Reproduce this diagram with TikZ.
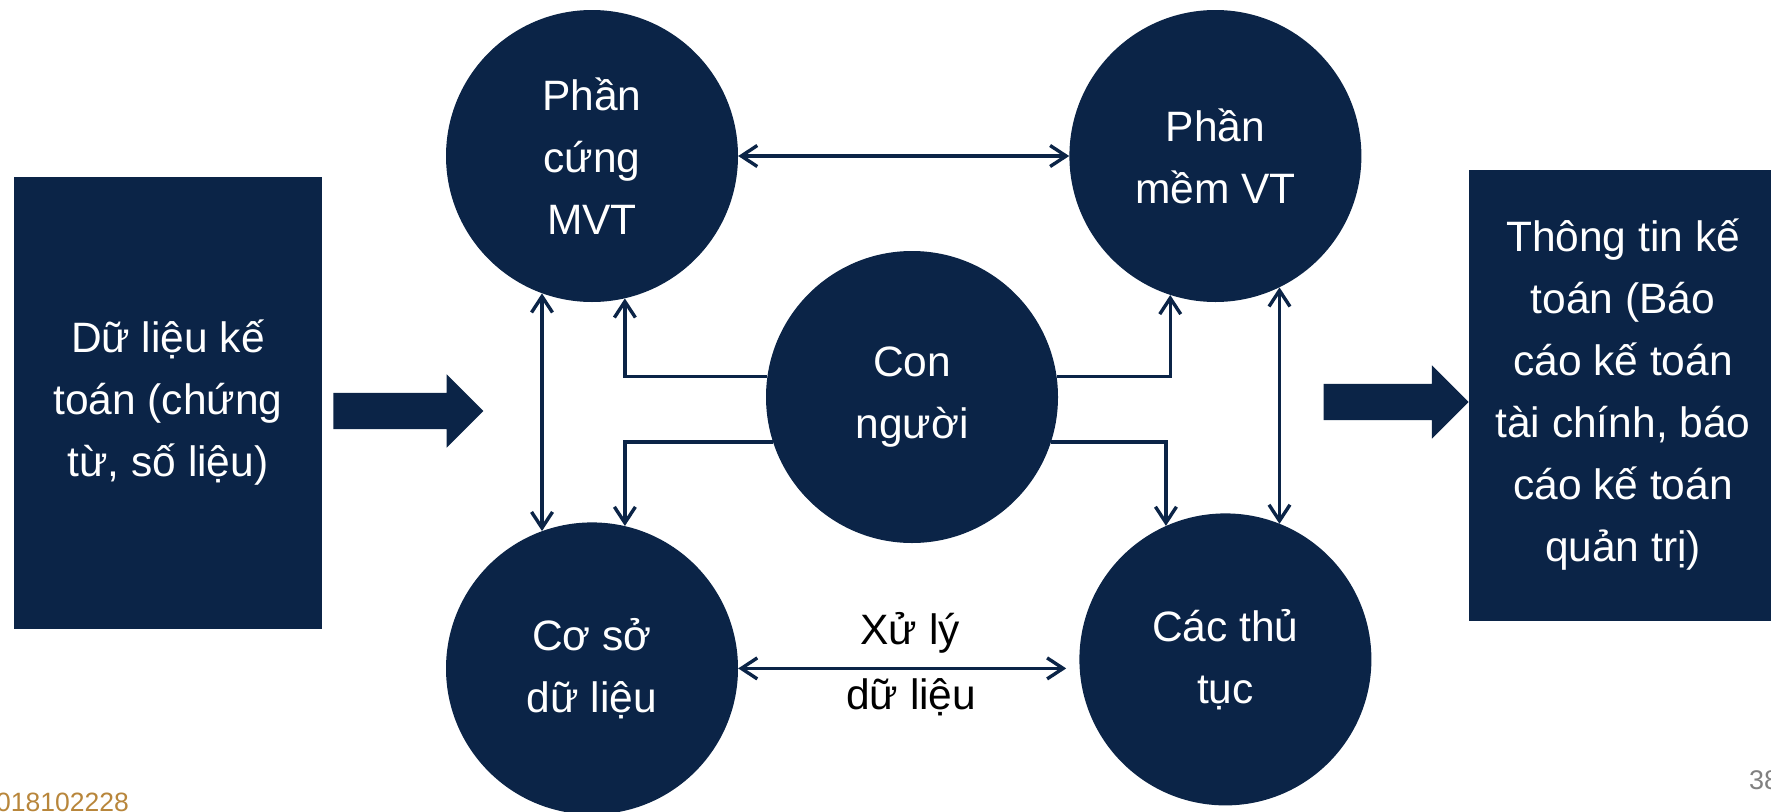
\documentclass[tikz,border=0pt]{standalone}
\usepackage{fontspec}
\setmainfont{Liberation Sans}
\usetikzlibrary{positioning,arrows.meta,shapes.arrows}
\definecolor{deepblue}{RGB}{11,36,71}
\definecolor{footgold}{RGB}{184,134,59}
\definecolor{pagegray}{RGB}{128,128,128}
\tikzset{unit/.style={circle,fill=deepblue,text=white,inner sep=0pt,minimum size=292pt,
	  align=center,font=\fontsize{42.5}{62}\selectfont},
	 panel/.style={rectangle,fill=deepblue,text=white,inner sep=0pt,minimum width=308pt,
	  align=center,font=\fontsize{42.5}{62}\selectfont},
	 fat/.style={single arrow,fill=deepblue,inner xsep=0pt,inner ysep=18pt,minimum height=150pt,
	  single arrow head extend=18.5pt},
	 link/.style={draw=deepblue,line width=3.4pt,>={Straight Barb[length=16pt,width=21pt]}},
	 tag/.style={anchor=base,inner sep=0pt,font=\fontsize{42.5}{50}\selectfont},
	 node distance = 1
	 }

\begin{document}
\begin{tikzpicture}[x=1pt,y=-1pt]% accounting system parts
        \useasboundingbox (0,0) rectangle (1771,811);
        \node[unit] (hw) at (592,156) {Phần\\cứng\\MVT};
        \node[unit] (sw) [right=331pt of hw] {Phần\\mềm VT};
        \node[unit] (db) [below=220pt of hw] {Cơ sở\\dữ liệu};
        \node[unit] (proc) [right=341pt of db,yshift=9pt] {Các thủ\\tục};
        \node[unit] (ppl) at (912,397) {Con\\người};
        \node[panel,minimum height=452pt] (data) at (168,403) {Dữ liệu kế\\toán (chứng\\từ, số liệu)};
        \node[panel,minimum height=451pt] (info) at (1623,395)
          {Thông tin kế\\toán (Báo\\cáo kế toán\\tài chính, báo\\cáo kế toán\\quản trị)};
        \node[fat] (inarr) [right=11pt of data,yshift=-8pt] {};
        \node[fat,minimum height=145pt] (outarr) [left=0pt of info,yshift=-7pt] {};
        \draw[link,<->] (hw) to (sw);
        \draw[link,<->] (hw.250) to (db.110);
        \draw[link,<->] (sw.296) to (sw.296 |- proc.68);
        \draw[link,<->] (db.east) to
          node[tag,xshift=8pt,yshift=24pt] {Xử lý}
          node[tag,xshift=9pt,yshift=-41pt] {dữ liệu}
          ([xshift=-13pt]db.east -| proc.west);
        \draw[link,->] (ppl.172) -| (hw.283);
        \draw[link,->] (ppl.198) -| (db.77);
        \draw[link,->] (ppl.8) -| (sw.252);
        \draw[link,->] (ppl.342) -| (proc.114);
        \node[font=\fontsize{26.5}{30}\selectfont,text=footgold,anchor=base west,inner sep=0pt]
          (code) at (-4,811) {018102228};
        \node[font=\fontsize{27}{30}\selectfont,text=pagegray,anchor=base west,inner sep=0pt]
          (page) at (1749,789) {38};
\end{tikzpicture}
\end{document}
